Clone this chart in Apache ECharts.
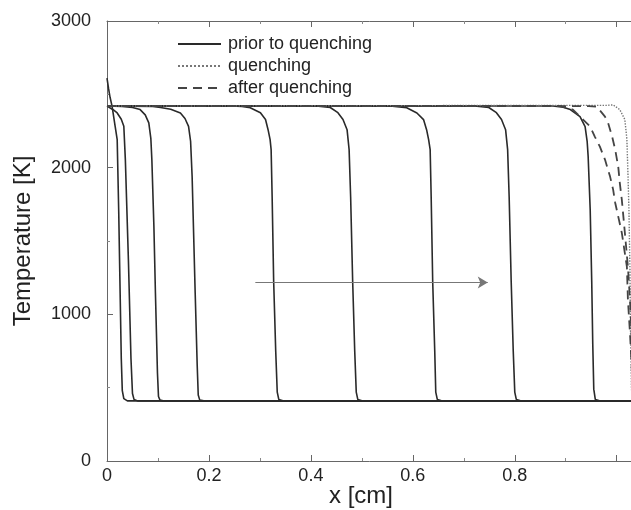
<!DOCTYPE html>
<html>
<head>
<meta charset="utf-8">
<script src="https://cdn.jsdelivr.net/npm/echarts@6/dist/echarts.min.js"></script>
<style>html,body{margin:0;padding:0;background:#fff}#c{width:631px;height:510px}</style>
</head>
<body>
<div id="c"></div>
<script>
// ---- data (x [cm], T [K]) ----
const priorCurve1 = [[0,2610],[0.003,2540],[0.006,2480],[0.01,2418],[0.016,2282],[0.02,2191],[0.023,1700],[0.026,1100],[0.028,700],[0.03,480],[0.033,425],[0.04,410],[1.03,410]];
const priorCurve2 = [[0,2420],[0.003,2410],[0.012,2395],[0.02,2373],[0.028,2330],[0.033,2282],[0.036,2055],[0.042,1372],[0.047,700],[0.05,460],[0.053,420],[0.06,410],[1.03,410]];
const priorCurve3 = [[0,2420],[0.03,2418],[0.05,2410],[0.065,2396],[0.075,2360],[0.082,2305],[0.086,2200],[0.088,2055],[0.092,1600],[0.095,1147],[0.099,600],[0.101,440],[0.104,415],[0.11,410],[1.03,410]];
const priorCurve4 = [[0,2420],[0.09,2418],[0.105,2410],[0.125,2398],[0.144,2373],[0.153,2335],[0.16,2282],[0.164,2180],[0.167,1941],[0.173,1147],[0.177,650],[0.179,450],[0.182,415],[0.19,410],[1.03,410]];
const priorCurve5 = [[0,2420],[0.245,2420],[0.265,2417],[0.281,2408],[0.301,2375],[0.311,2328],[0.316,2259],[0.32,2191],[0.322,2123],[0.324,1800],[0.327,1222],[0.331,750],[0.334,470],[0.337,420],[0.345,410],[1.03,410]];
const priorCurve6 = [[0,2420],[0.41,2420],[0.438,2410],[0.453,2375],[0.463,2328],[0.471,2259],[0.473,2191],[0.475,2123],[0.478,1800],[0.482,1222],[0.486,750],[0.489,470],[0.492,420],[0.5,410],[1.03,410]];
const priorCurve7 = [[0,2420],[0.555,2420],[0.588,2408],[0.608,2373],[0.621,2328],[0.627,2259],[0.631,2191],[0.634,2123],[0.636,1800],[0.639,1222],[0.643,750],[0.645,470],[0.648,420],[0.656,410],[1.03,410]];
const priorCurve8 = [[0,2420],[0.721,2420],[0.749,2410],[0.764,2375],[0.774,2328],[0.782,2259],[0.784,2191],[0.786,2123],[0.789,1800],[0.793,1222],[0.797,750],[0.8,470],[0.803,420],[0.811,410],[1.03,410]];
const priorCurve9 = [[0,2420],[0.875,2420],[0.895,2412],[0.909,2396],[0.928,2348],[0.938,2280],[0.942,2180],[0.944,2075],[0.948,1713],[0.951,1222],[0.953,800],[0.955,490],[0.958,420],[0.966,410],[1.03,410]];
const quenchCurve = [[0,2420],[0.98,2425],[0.993,2428],[1.006,2396],[1.016,2328],[1.02,2191],[1.022,1966],[1.024,1713],[1.026,1300],[1.027,900],[1.029,500],[1.03,420]];
const afterCurve1 = [[0,2420],[0.89,2420],[0.914,2396],[0.934,2328],[0.948,2280],[0.957,2212],[0.967,2143],[0.977,2055],[0.987,1939],[0.993,1850],[0.997,1761],[1.01,1556],[1.02,1324],[1.022,1099],[1.026,874],[1.03,600]];
const afterCurve2 = [[0,2420],[0.945,2420],[0.961,2416],[0.977,2348],[0.983,2307],[0.991,2212],[0.997,2123],[1.003,2007],[1.006,1898],[1.01,1782],[1.016,1556],[1.022,1324],[1.026,1099],[1.03,800]];
const arrowStart = [0.291, 1217];
const arrowEnd = [0.747, 1217];
const legendNames = ['prior to quenching', 'quenching', 'after quenching'];

const FONT = '"Liberation Sans", Arial, Helvetica, sans-serif';
const solidStyle = {color: '#2a2a2a', width: 1.6, type: 'solid'};
const priorCurves = [priorCurve1, priorCurve2, priorCurve3, priorCurve4, priorCurve5, priorCurve6, priorCurve7, priorCurve8, priorCurve9];

const series = [];
priorCurves.forEach((d, i) => {
  const s = {name: legendNames[0], type: 'line', data: d, showSymbol: false, symbol: 'none',
    lineStyle: solidStyle, itemStyle: {color: '#2a2a2a'}, silent: true, z: 3};
  if (i === 0) {
    s.markLine = {silent: true, symbol: ['none', 'arrow'], symbolSize: [9, 10],
      label: {show: false}, lineStyle: {color: '#777', width: 1.2, type: 'solid'},
      data: [[{coord: arrowStart}, {coord: arrowEnd}]]};
  }
  series.push(s);
});
series.push({name: legendNames[1], type: 'line', data: quenchCurve, showSymbol: false, symbol: 'none',
  lineStyle: {color: '#777', width: 1.4, type: 'dotted'}, itemStyle: {color: '#777'}, silent: true});
[afterCurve1, afterCurve2].forEach(d => series.push({name: legendNames[2], type: 'line', data: d, showSymbol: false, symbol: 'none',
  lineStyle: {color: '#444', width: 1.8, type: [9, 6]}, itemStyle: {color: '#444'}, silent: true}));

const axisLine = {show: true, lineStyle: {color: '#666', width: 1}};
const chart = echarts.init(document.getElementById('c'), null, {renderer: 'canvas'});
chart.setOption({
  animation: false,
  backgroundColor: '#fff',
  grid: {left: 107, top: 21, width: 525, height: 440, containLabel: false, outerBoundsMode: 'none'},
  legend: {data: legendNames, orient: 'vertical', left: 172, top: 30, itemWidth: 43, itemHeight: 14, itemGap: 4,
    itemStyle: {opacity: 0, borderWidth: 0, color: 'rgba(0,0,0,0)'},
    textStyle: {fontFamily: FONT, fontSize: 18, color: '#222', padding: [0, 0, 0, 2]}, selectedMode: false},
  xAxis: [{
    type: 'value', min: 0, max: 1.03, interval: 0.2, position: 'bottom',
    axisLine: axisLine, splitLine: {show: false},
    axisTick: {inside: true, length: 6, lineStyle: {color: '#666'}},
    minorTick: {show: true, splitNumber: 2, length: 3, lineStyle: {color: '#888'}},
    axisLabel: {fontFamily: FONT, fontSize: 18, color: '#222', margin: 6,
      formatter: v => (v > 0.85 ? '' : String(Math.round(v * 10) / 10))},
    name: 'x [cm]', nameLocation: 'middle', nameGap: 23, nameMoveOverlap: false,
    nameTextStyle: {fontFamily: FONT, fontSize: 24, color: '#222', padding: [0, 17, 0, 0]}
  }, {
    type: 'value', min: 0, max: 1.03, interval: 0.2, position: 'top',
    axisLine: axisLine, splitLine: {show: false},
    axisTick: {inside: true, length: 6, lineStyle: {color: '#666'}},
    minorTick: {show: true, splitNumber: 2, length: 3, lineStyle: {color: '#888'}},
    axisLabel: {show: false}
  }],
  yAxis: {
    type: 'value', min: 0, max: 3000, interval: 1000,
    axisLine: axisLine, splitLine: {show: false},
    axisTick: {inside: true, length: 6, lineStyle: {color: '#666'}},
    minorTick: {show: true, splitNumber: 2, length: 3, lineStyle: {color: '#888'}},
    axisLabel: {fontFamily: FONT, fontSize: 18, color: '#222', margin: 16, formatter: v => String(v)},
    name: 'Temperature [K]', nameLocation: 'middle', nameGap: 72, nameRotate: 90, nameMoveOverlap: false,
    nameTextStyle: {fontFamily: FONT, fontSize: 24, color: '#222'}
  },
  series: series
});
</script>
</body>
</html>
